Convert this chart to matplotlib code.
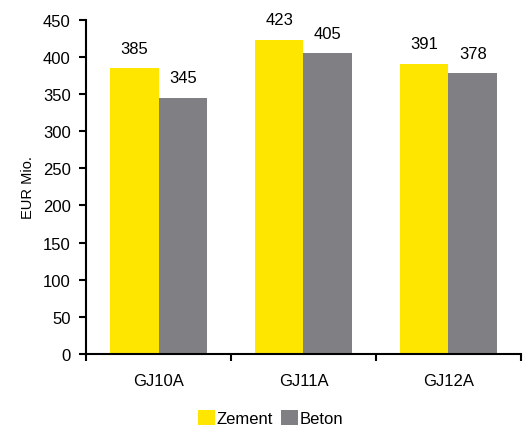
import matplotlib.pyplot as plt
import numpy as np

plt.rcParams['font.family'] = ['Liberation Sans', 'DejaVu Sans']

categories = ["GJ10A", "GJ11A", "GJ12A"]
zement = [385, 423, 391]
beton = [345, 405, 378]

fig = plt.figure(figsize=(5.31, 4.27), dpi=100)
ax = fig.add_axes([0.162, 0.169, 0.819, 0.782])

x = np.arange(len(categories))
w = 0.335
b1 = ax.bar(x - w / 2, zement, w, color="#FFE600", label="Zement")
b2 = ax.bar(x + w / 2, beton, w, color="#807F83", label="Beton")

for bars in (b1, b2):
    for bar in bars:
        ax.annotate(f"{bar.get_height():.0f}",
                    (bar.get_x() + bar.get_width() / 2, bar.get_height()),
                    xytext=(0, 9), textcoords="offset points",
                    ha="center", va="bottom", fontsize=12)

ax.set_xlim(-0.5, 2.5)
ax.set_ylim(0, 450)
ax.set_yticks(range(0, 451, 50))
ax.set_xticks([-0.5, 0.5, 1.5, 2.5])
ax.set_xticklabels([])
ax.set_xticks(x, minor=True)
ax.set_xticklabels(categories, minor=True)
ax.tick_params(axis="x", which="minor", length=0, pad=14, labelsize=12)
ax.tick_params(axis="x", which="major", length=5, width=1.5, direction="out")
ax.tick_params(axis="y", length=5, width=1.5, labelsize=12, pad=6)
ax.set_ylabel("EUR Mio.", fontsize=10.5, labelpad=6)

for s in ("top", "right"):
    ax.spines[s].set_visible(False)
for s in ("left", "bottom"):
    ax.spines[s].set_linewidth(1.5)

fig.legend(handles=[b1, b2], loc="lower center", bbox_to_anchor=(0.51, -0.035),
           ncol=2, frameon=False, fontsize=12, handlelength=1.0,
           handleheight=1.0, handletextpad=0.1, columnspacing=0.5)

fig.savefig("out.png", dpi=100)
